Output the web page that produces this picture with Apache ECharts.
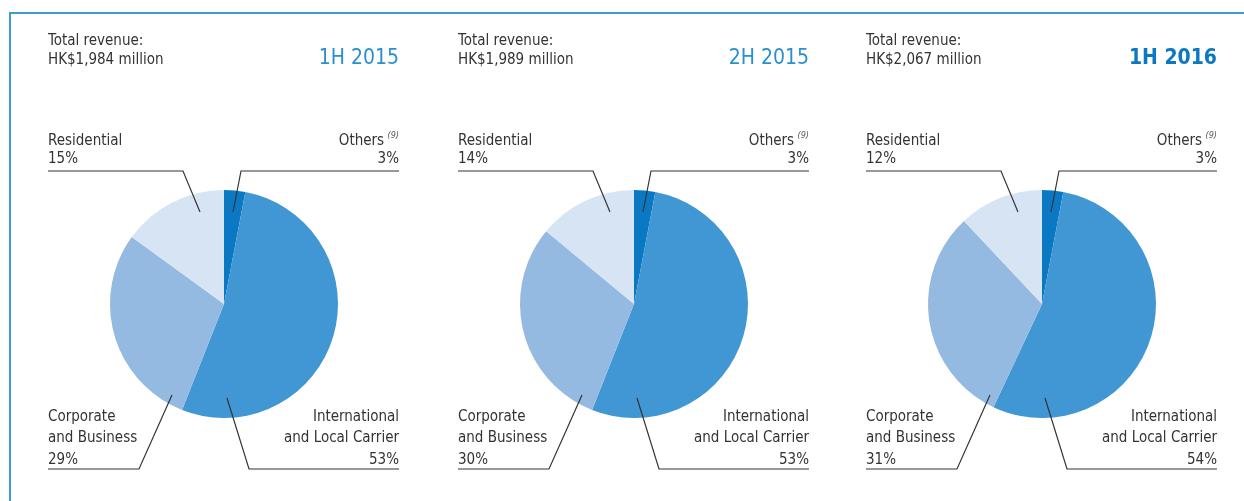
<!DOCTYPE html>
<html><head><meta charset="utf-8">
<script src="https://cdn.jsdelivr.net/npm/echarts@6/dist/echarts.min.js"></script>
<style>html,body{margin:0;padding:0;background:#fff}#c{width:1244px;height:501px}</style>
</head><body><div id="c"></div>
<script>
// ---- data ----
var categories = ['Others', 'International\nand Local Carrier', 'Corporate\nand Business', 'Residential'];
var periods = ['1H 2015', '2H 2015', '1H 2016'];
var totals = ['HK$1,984 million', 'HK$1,989 million', 'HK$2,067 million'];
var values1H2015 = [3, 53, 29, 15];
var values2H2015 = [3, 53, 30, 14];
var values1H2016 = [3, 54, 31, 12];
var seriesValues = [values1H2015, values2H2015, values1H2016];

// ---- layout / style ----
var FONT = "'DejaVu Sans Condensed','Liberation Sans Narrow',sans-serif";
var TEXT = '#333333';
var FS = 15;
var colors = ['#0a78c2', '#4197d3', '#95bae2', '#d6e4f4'];
var centersX = [224, 634, 1042];
var CY = 304, R = 114;
// label line geometry relative to pie centre: [inner point, elbow, end]
var guide = [
  {pts: [[9, -92], [17, -133], [175, -133]], align: 'right', top: true},
  {pts: [[3, 94], [25, 165], [175, 165]], align: 'right', top: false},
  {pts: [[-52, 91], [-85, 165], [-176, 165]], align: 'left', top: false},
  {pts: [[-24, -92], [-41, -133], [-176, -133]], align: 'left', top: true}
];

var chart = echarts.init(document.getElementById('c'), null, {renderer: 'canvas'});

function richFor(lh) {
  return {
    a: {fontFamily: FONT, fontSize: FS, color: TEXT, lineHeight: lh},
    s: {fontFamily: FONT, fontSize: 9, fontStyle: 'italic', color: '#555', verticalAlign: 'top', lineHeight: lh}
  };
}

function labelFormatter(p) {
  var lines = p.name.split('\n');
  var out = lines.map(function (l, i) {
    var s = '{a|' + l + '}';
    if (p.dataIndex === 0 && i === 0) s += ' {s|(9)}';
    return s;
  });
  out.push('{a|' + p.value + '%}');
  return out.join('\n');
}

function makeLayout(k) {
  var cx = centersX[k];
  return function (params) {
    var g = guide[params.dataIndex];
    var pts = g.pts.map(function (q) { return [cx + q[0], CY + q[1]]; });
    var end = pts[2];
    return {
      x: end[0],
      y: g.top ? end[1] - 2.5 : end[1] + 1.5,
      align: g.align,
      verticalAlign: 'bottom',
      labelLinePoints: pts
    };
  };
}

var series = [], titles = [];
seriesValues.forEach(function (vals, k) {
  var cx = centersX[k];
  // visible slices
  series.push({
    type: 'pie',
    z: 2,
    center: [cx, CY],
    radius: R,
    startAngle: 90,
    clockwise: true,
    animation: false,
    silent: true,
    data: categories.map(function (c, i) {
      return {name: c, value: vals[i], itemStyle: {color: colors[i]}};
    }),
    label: {show: false},
    labelLine: {show: false}
  });
  // transparent overlay carrying labels and leader lines (drawn above slices)
  series.push({
    type: 'pie',
    z: 3,
    center: [cx, CY],
    radius: R,
    startAngle: 90,
    clockwise: true,
    avoidLabelOverlap: false,
    animation: false,
    silent: true,
    data: categories.map(function (c, i) {
      return {
        name: c, value: vals[i], itemStyle: {color: 'rgba(0,0,0,0)'},
        label: {rich: richFor(guide[i].top ? 18.5 : 21.5)}
      };
    }),
    label: {
      show: true,
      position: 'outside',
      formatter: labelFormatter,
      color: TEXT,
      fontFamily: FONT,
      rich: richFor(20)
    },
    labelLine: {show: true, showAbove: true, lineStyle: {color: '#333333', width: 1.2}},
    labelLayout: makeLayout(k)
  });
  titles.push({
    text: 'Total revenue:\n' + totals[k],
    left: cx - 176, top: 31,
    padding: 0,
    textStyle: {fontFamily: FONT, fontSize: FS, fontWeight: 'normal', color: TEXT, lineHeight: 19.5}
  });
  titles.push({
    text: periods[k],
    right: 1244 - (cx + 175), top: 47.5,
    padding: 0,
    textStyle: {fontFamily: FONT, fontSize: 21, fontWeight: k === 2 ? 'bold' : 'normal',
      color: k === 2 ? '#0b78c2' : '#2a8fd2', lineHeight: 22}
  });
});

chart.setOption({
  animation: false,
  title: titles,
  graphic: [{
    type: 'polyline',
    shape: {points: [[10, 501], [10, 13], [1244, 13]]},
    style: {stroke: '#3f9ad6', lineWidth: 2, fill: null},
    silent: true
  }],
  series: series
});
</script>
</body></html>
